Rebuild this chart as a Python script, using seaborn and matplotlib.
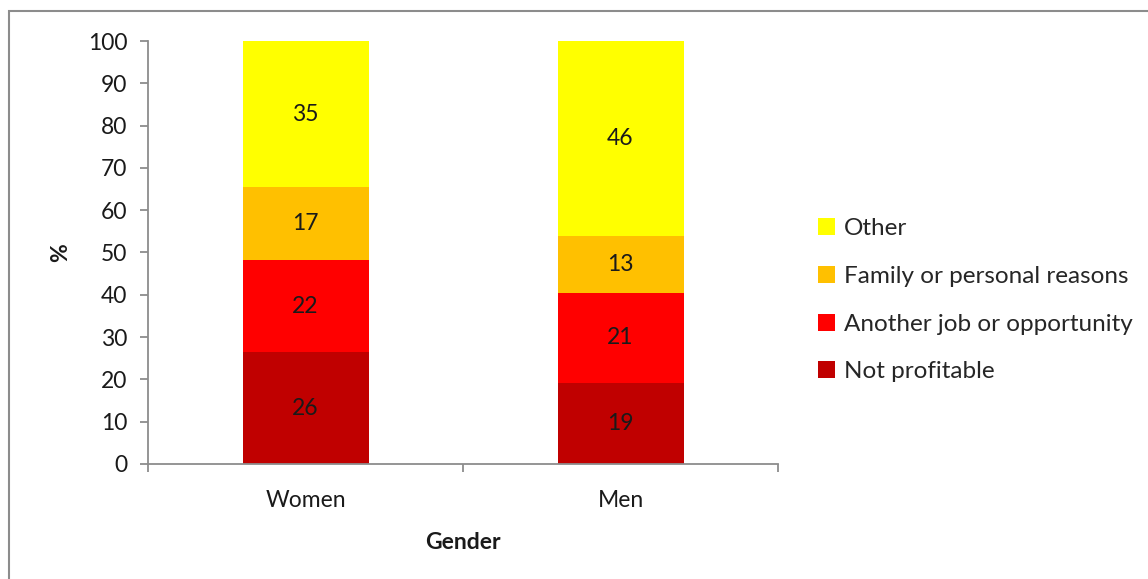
import matplotlib
matplotlib.use("Agg")
import matplotlib.pyplot as plt
import seaborn as sns
import pandas as pd
import numpy as np
from matplotlib.patches import Rectangle, Patch

genders = ["Women", "Men"]
reasons = ["Not profitable", "Another job or opportunity", "Family or personal reasons", "Other"]
not_profitable = [26.4, 19.2]
another_job = [21.8, 21.3]
family = [17.2, 13.4]
other = [34.6, 46.1]
colors = ["#C00000", "#FF0000", "#FFC000", "#FFFF00"]

sns.set_theme(style="white")
plt.rcParams["font.family"] = ["Lato", "DejaVu Sans"]

series = [not_profitable, another_job, family, other]
cum = np.cumsum(np.array(series), axis=0)

fig = plt.figure(figsize=(11.48, 5.79), dpi=100)
W, H = 1148, 579
ax = fig.add_axes([148 / W, (H - 464) / H, 630 / W, 423 / H])

# figure border
fig.patches.append(Rectangle((9 / W, -0.1), 1.2, (H - 11) / H + 0.1, transform=fig.transFigure,
                             fill=False, edgecolor="#8c8c8c", linewidth=1.5))

# draw stacked bars: tallest cumulative first
for i in range(len(reasons) - 1, -1, -1):
    df = pd.DataFrame({"Gender": genders, "value": cum[i]})
    sns.barplot(data=df, x="Gender", y="value", color=colors[i], width=0.4,
                saturation=1, ax=ax, zorder=2, linewidth=0)

# labels
for i in range(len(reasons)):
    for j in range(len(genders)):
        bottom = cum[i - 1][j] if i > 0 else 0
        val = series[i][j]
        ax.text(j, bottom + val / 2, f"{val:.0f}", ha="center", va="center",
                fontsize=16.5, color="#1a1a1a")

ax.set_ylim(0, 100)
ax.set_xlim(-0.5, 1.5)
ax.set_yticks(range(0, 101, 10))
ax.set_xticks([-0.5, 0.5, 1.5])
ax.set_xticklabels([])
ax.set_xticks([0, 1], minor=True)
ax.set_xticklabels(genders, minor=True)
ax.tick_params(axis="x", which="minor", length=0, pad=19, labelsize=16.5, labelcolor="#1a1a1a")
ax.tick_params(axis="x", which="major", length=6, width=1.3, color="#8c8c8c", direction="out", bottom=True)
ax.tick_params(axis="y", length=6, width=1.3, color="#8c8c8c", direction="out", left=True,
               labelsize=16.5, labelcolor="#1a1a1a", pad=9)

for s in ["top", "right"]:
    ax.spines[s].set_visible(False)
for s in ["left", "bottom"]:
    ax.spines[s].set_color("#8c8c8c")
    ax.spines[s].set_linewidth(1.3)

ax.set_xlabel("Gender", fontsize=16.5, fontweight="bold", color="#1a1a1a", labelpad=15)
ax.set_ylabel("%", fontsize=16.5, fontweight="bold", color="#1a1a1a", labelpad=12)

handles = [Patch(facecolor=colors[i], edgecolor="none", label=reasons[i]) for i in range(3, -1, -1)]
fig.legend(handles=handles, loc="upper left", bbox_to_anchor=(818 / W, (H - 218) / H),
           frameon=False, fontsize=17.5, handlelength=0.7, handleheight=0.7,
           handletextpad=0.35, labelspacing=1.1, borderaxespad=0, borderpad=0)

fig.savefig("out.png", dpi=100)
